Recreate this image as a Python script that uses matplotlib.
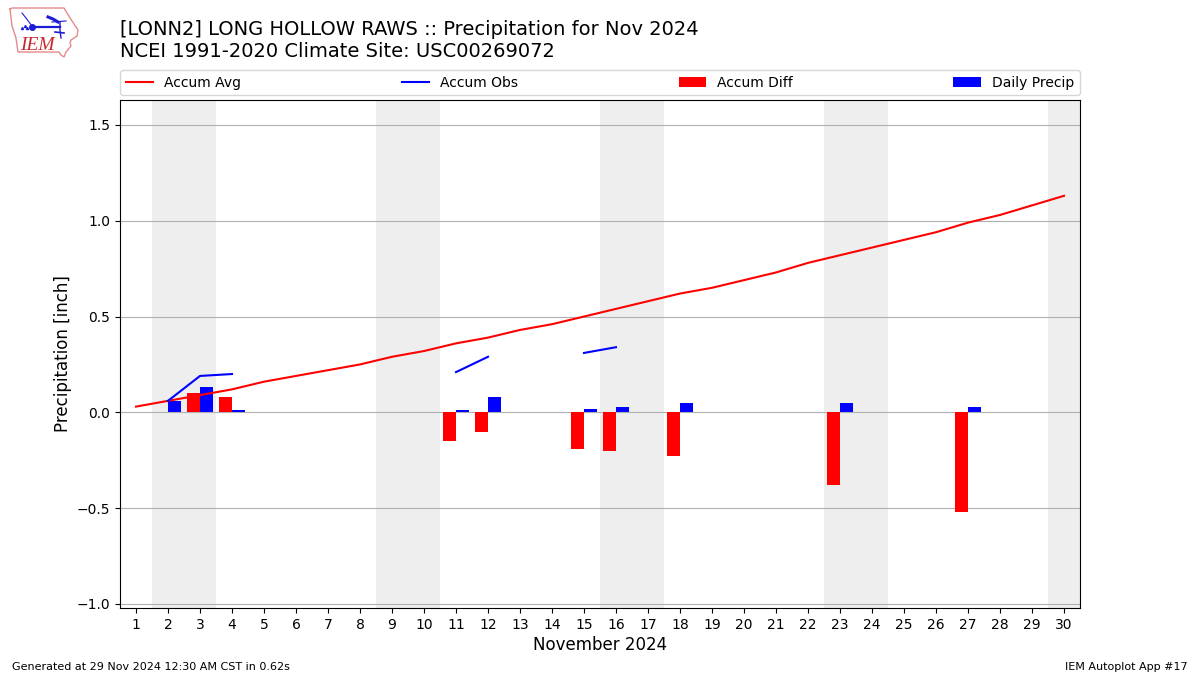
import numpy as np
import matplotlib
matplotlib.use("Agg")
import matplotlib.pyplot as plt

nan = np.nan
days = np.arange(1, 31)
accum_avg = [0.03, 0.06, 0.09, 0.12, 0.16, 0.19, 0.22, 0.25, 0.29, 0.32,
             0.36, 0.39, 0.43, 0.46, 0.50, 0.54, 0.58, 0.62, 0.65, 0.69,
             0.73, 0.78, 0.82, 0.86, 0.90, 0.94, 0.99, 1.03, 1.08, 1.13]
accum_obs = [nan, 0.06, 0.19, 0.20, nan, nan, nan, nan, nan, nan,
             0.21, 0.29, nan, nan, 0.31, 0.34, nan, nan, nan, nan,
             nan, nan, nan, nan, nan, nan, nan, nan, nan, nan]
accum_diff = [0, 0, 0.10, 0.08, 0, 0, 0, 0, 0, 0,
              -0.15, -0.10, 0, 0, -0.19, -0.20, 0, -0.23, 0, 0,
              0, 0, -0.38, 0, 0, 0, -0.52, 0, 0, 0]
daily = [0, 0.06, 0.13, 0.01, 0, 0, 0, 0, 0, 0,
         0.01, 0.08, 0, 0, 0.02, 0.03, 0, 0.05, 0, 0,
         0, 0, 0.05, 0, 0, 0, 0.03, 0, 0, 0]
weekends = [(1.5, 3.5), (8.5, 10.5), (15.5, 17.5), (22.5, 24.5), (29.5, 30.5)]

W, H = 1200, 675
fig = plt.figure(figsize=(12, 6.75), dpi=100)
ax = fig.add_axes([120 / W, 1 - 608 / H, 960 / W, 508 / H])

for a, b in weekends:
    ax.axvspan(a, b, color="#eeeeee", lw=0, zorder=0)
ax.plot(days, accum_avg, color="r", lw=1.5, label="Accum Avg", zorder=3)
ax.plot(days, accum_obs, color="b", lw=1.5, label="Accum Obs", zorder=3)
d = np.array(accum_diff)
p = np.array(daily)
ax.bar(days[d != 0], d[d != 0], width=-0.4, align="edge", color="r", label="Accum Diff", zorder=2)
ax.bar(days[p != 0], p[p != 0], width=0.4, align="edge", color="b", label="Daily Precip", zorder=2)

ax.set_xlim(0.5, 30.5)
ax.set_ylim(-1.021, 1.630)
ax.set_xticks(days)
ax.set_yticks([-1.0, -0.5, 0, 0.5, 1.0, 1.5])
ax.grid(True, axis="y", color="#b0b0b0", lw=0.8)
ax.set_axisbelow(True)
ax.set_xlabel("November 2024", fontsize=12, labelpad=3)
ax.set_ylabel("Precipitation [inch]", fontsize=12, labelpad=3)
ax.legend(loc="lower left", bbox_to_anchor=(0, 1.0095, 1, 0.05), ncol=4, mode="expand",
          borderaxespad=0.0, fontsize=10)

fig.text(120 / W, 1 - 29.5 / H, "[LONN2] LONG HOLLOW RAWS :: Precipitation for Nov 2024",
         fontsize=14, ha="left", va="center")
fig.text(120 / W, 1 - 51.5 / H, "NCEI 1991-2020 Climate Site: USC00269072",
         fontsize=14, ha="left", va="center")
fig.text(12 / W, 1 - 667 / H, "Generated at 29 Nov 2024 12:30 AM CST in 0.62s", fontsize=8, va="center")
fig.text(1188 / W, 1 - 667 / H, "IEM Autoplot App #17", fontsize=8, ha="right", va="center")

# logo, in pixel coords of the logo box
logo = fig.add_axes([5 / W, 1 - 61 / H, 80 / W, 58 / H])
logo.set_xlim(5, 85)
logo.set_ylim(61, 3)
logo.axis("off")
outline_x = [10, 12, 64, 67, 72, 78, 77, 71, 70, 71, 66, 64, 61, 59, 18, 17, 16, 12, 10]
outline_y = [9, 8, 8, 13, 21, 30, 36, 40, 43, 46, 52, 57, 55, 52, 52, 45, 38, 26, 9]
logo.plot(outline_x, outline_y, color="#e48a8a", lw=1)
logo.plot([32, 60], [26.5, 26.5], color="#1c1cd8", lw=1.6)
logo.plot([32], [26.5], "o", color="#1c1cd8", ms=4)
logo.plot([48, 53, 58], [17, 19, 22], color="#1c1cd8", lw=2.2)
logo.plot([52, 66], [22, 21], color="#1c1cd8", lw=0.8)
logo.plot([60, 60, 61], [22, 30, 38], color="#1c1cd8", lw=1)
logo.plot([55, 64], [32, 33], color="#1c1cd8", lw=1.2)
logo.plot([22, 26, 32], [13, 18, 26], color="#1c1cd8", lw=0.8)
logo.plot([22, 25, 27], [28, 26, 28], ls="none", marker="^", color="#1c1cd8", ms=1.5)
logo.text(37.5, 45, "IEM", color="#c8282e", fontsize=14, family="Liberation Serif",
          style="italic", ha="center", va="center")

fig.savefig("out.png", dpi=100)
